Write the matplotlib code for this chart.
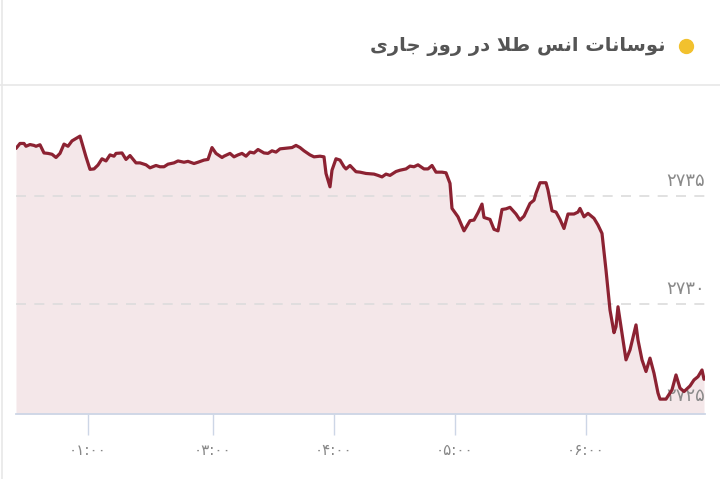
import numpy as np
import matplotlib.pyplot as plt
from matplotlib.lines import Line2D

# minutes from the left edge of the chart, and the ounce price at that moment
minutes = [0, 2, 4, 5, 7, 9, 10, 12, 14, 16, 18, 20, 22, 24, 26, 28, 30, 32, 35, 37,
           39, 41, 43, 45, 47, 49, 50, 53, 55, 57, 60, 62, 65, 67, 70, 72, 74, 76, 79, 81,
           84, 86, 89, 91, 94, 96, 98, 100, 103, 104, 107, 109, 111, 113, 115, 117, 119, 121, 124, 126,
           128, 130, 132, 135, 138, 140, 142, 144, 147, 149, 152, 154, 155, 157, 158, 160, 162, 164, 165, 167,
           170, 172, 175, 179, 181, 183, 185, 187, 190, 192, 195, 197, 199, 201, 204, 206, 208, 210, 213, 215,
           217, 218, 221, 223, 224, 227, 229, 231, 233, 234, 237, 239, 241, 243, 245, 247, 250, 252, 254, 257,
           259, 260, 262, 265, 266, 268, 270, 272, 274, 276, 279, 281, 282, 284, 286, 289, 291, 293, 295, 297,
           299, 300, 301, 302, 304, 305, 307, 310, 311, 313, 315, 317, 319, 321, 322, 325, 328, 330, 332, 334,
           337, 339, 341, 343, 344]
price = [2737.21, 2737.44, 2737.44, 2737.31, 2737.39, 2737.35, 2737.31, 2737.38, 2737.00, 2736.98,
         2736.94, 2736.79, 2736.98, 2737.41, 2737.31, 2737.56, 2737.67, 2737.78, 2736.82, 2736.24,
         2736.26, 2736.44, 2736.73, 2736.63, 2736.91, 2736.85, 2736.98, 2737.00, 2736.70, 2736.88,
         2736.54, 2736.54, 2736.45, 2736.31, 2736.42, 2736.36, 2736.36, 2736.48, 2736.54, 2736.63,
         2736.57, 2736.61, 2736.51, 2736.57, 2736.67, 2736.70, 2737.25, 2736.98, 2736.79, 2736.85,
         2736.98, 2736.82, 2736.91, 2736.98, 2736.85, 2737.04, 2737.00, 2737.16, 2737.00, 2736.98,
         2737.10, 2737.04, 2737.19, 2737.22, 2737.25, 2737.35, 2737.25, 2737.10, 2736.91, 2736.82,
         2736.85, 2736.82, 2736.05, 2735.43, 2736.20, 2736.73, 2736.67, 2736.36, 2736.26, 2736.42,
         2736.13, 2736.11, 2736.05, 2736.02, 2735.96, 2735.89, 2736.02, 2735.96, 2736.14, 2736.20,
         2736.26, 2736.39, 2736.36, 2736.45, 2736.26, 2736.26, 2736.42, 2736.11, 2736.11, 2736.08,
         2735.59, 2734.43, 2734.04, 2733.61, 2733.39, 2733.86, 2733.89, 2734.23, 2734.63, 2734.01,
         2733.92, 2733.46, 2733.39, 2734.38, 2734.41, 2734.48, 2734.17, 2733.89, 2734.07, 2734.66,
         2734.81, 2735.13, 2735.62, 2735.62, 2735.28, 2734.32, 2734.26, 2733.92, 2733.50, 2734.17,
         2734.17, 2734.26, 2734.43, 2734.04, 2734.20, 2733.97, 2733.66, 2733.27, 2731.57, 2729.72,
         2728.67, 2728.95, 2729.87, 2729.26, 2728.02, 2727.41, 2727.87, 2729.03, 2728.33, 2727.41,
         2726.87, 2727.49, 2726.79, 2725.87, 2725.59, 2725.59, 2726.02, 2726.71, 2726.10, 2725.94,
         2726.20, 2726.48, 2726.63, 2726.94, 2726.51]

tick_pos = [36, 98.5, 159, 219.5, 285]
tick_labels = ["۰۱:۰۰", "۰۳:۰۰", "۰۴:۰۰", "۰۵:۰۰", "۰۶:۰۰"]
y_ticks = [2725, 2730, 2735]
y_labels = ["۲۷۲۵", "۲۷۳۰", "۲۷۳۵"]

# "نوسانات انس طلا در روز جاری" in shaped presentation forms, visual order
title = ("\ufeef\ufead\ufe8e\ufe9f \ufeaf\ufeed\ufead \ufead\ufea9 "
         "\ufefc\ufec3 \ufeb2\ufee7\ufe8d \ufe95\ufe8e\ufee7\ufe8e\ufeb3\ufeee\ufee7")

line_col = "#8c2232"
fill_col = "#f4e7e9"

fig = plt.figure(figsize=(7.2, 4.79), dpi=100)
ax = fig.add_axes([16 / 720, 1 - 414 / 479, (705 - 16) / 720, (414 - 85) / 479])

ax.fill_between(minutes, price, 2724.9, color=fill_col, lw=0, zorder=1)
for v in y_ticks[1:]:
    ax.axhline(v, color="#dcdcdc", lw=1.2, ls=(0, (6, 5)), zorder=1.5)
ax.plot(minutes, price, color=line_col, lw=2.3, solid_joinstyle="round",
        solid_capstyle="round", zorder=3)

ax.set_xlim(0, 344.5)
ax.set_ylim(2724.9, 2740.15)

for v, lab in zip(y_ticks, y_labels):
    ax.text(344.5, v + 0.3, lab, ha="right", va="bottom", fontsize=13, color="#8a8a8a",
            zorder=2)

ax.set_yticks([])
ax.set_xticks(tick_pos)
ax.set_xticklabels(tick_labels, fontsize=11, color="#888888")
ax.tick_params(axis="x", length=15, width=1, color="#cdd6e6", pad=6)

for s in ["top", "left", "right"]:
    ax.spines[s].set_visible(False)
ax.spines["bottom"].set_color("#cdd6e6")
ax.spines["bottom"].set_linewidth(1.3)

# card separator and left border
fig.add_artist(Line2D([0, 1], [1 - 84.5 / 479] * 2, color="#e8e8e8", lw=1.2))
fig.add_artist(Line2D([1.5 / 720] * 2, [0, 1], color="#e8e8e8", lw=1.2))

fig.text(665 / 720, 1 - 46 / 479, title, ha="right", va="center", fontsize=14,
         fontweight="bold", color="#555555")
fig.add_artist(Line2D([686 / 720], [1 - 46 / 479], marker="o", markersize=10,
                      color="#f2c12e", lw=0))

fig.savefig("out.png", dpi=100)
